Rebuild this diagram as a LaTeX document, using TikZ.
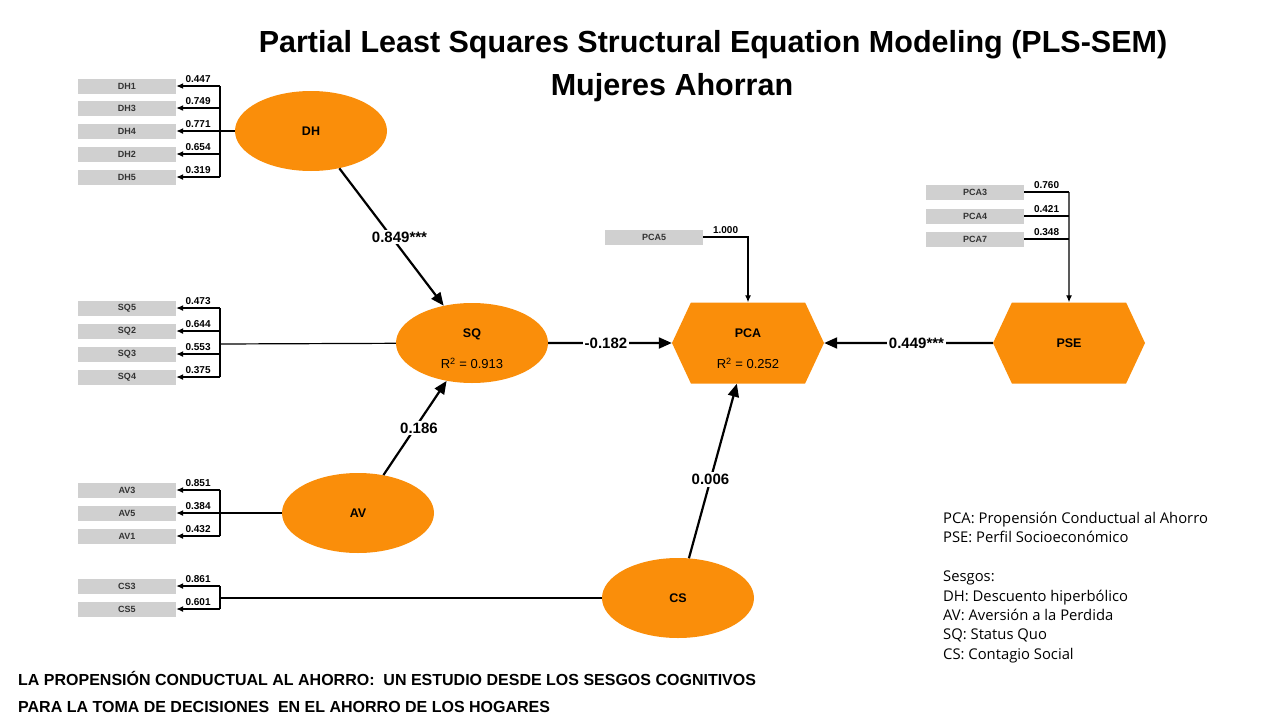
\documentclass[tikz,border=0pt]{standalone}
\usepackage{fontspec}
\setmainfont{Liberation Sans}
\newfontfamily\legendfont{Open Sans}
\usetikzlibrary{shapes.geometric,shapes.symbols,arrows.meta}
\definecolor{lvorange}{RGB}{250,142,10}
\definecolor{mvgray}{RGB}{208,208,208}

\begin{document}
\begin{tikzpicture}[x=1pt,y=-1pt,
  lv/.style={ellipse, fill=lvorange, minimum width=152, minimum height=80, inner sep=0, align=center,
    font=\bfseries\fontsize{12.5}{14}\selectfont},
  hex/.style={signal, signal to=west and east, signal pointer angle=130, fill=lvorange,
    minimum width=152, minimum height=81, inner sep=0, align=center, font=\bfseries\fontsize{12.5}{14}\selectfont},
  mv/.style={fill=mvgray, minimum width=98, minimum height=15, inner sep=0,
    font=\bfseries\fontsize{9}{10}\selectfont, text=black!80},
  ld/.style={line width=1.2, -{Latex[length=7,width=6]}},
  loading/.style={above=-1pt, font=\bfseries\fontsize{10}{11}\selectfont},
  strukt/.style={line width=2.2, -{Triangle[length=13,width=11]}},
  coef/.style={fill=white, inner sep=2, font=\bfseries\fontsize{15}{17}\selectfont}]
\useasboundingbox (0,0) rectangle (1280,720);

% titel
\node (titel) at (713,45) {\bfseries\fontsize{30.5}{34}\selectfont Partial Least Squares Structural Equation Modeling (PLS-SEM)};
\node (untertitel) at (672,88) {\bfseries\fontsize{30.5}{34}\selectfont Mujeres Ahorran};

% latente variablen
\node[lv] (dh) at (311,131) {DH};
\node[lv] (sq) at (472,343) {\rule{0pt}{21pt}SQ\\[17pt]{\mdseries\fontsize{13}{14}\selectfont R\textsuperscript{2} = 0.913}};
\node[lv] (av) at (358,513) {AV};
\node[lv] (cs) at (678,598) {CS};
\node[hex] (pca) at (748,343) {\rule{0pt}{21pt}PCA\\[17pt]{\mdseries\fontsize{13}{14}\selectfont R\textsuperscript{2} = 0.252}};
\node[hex] (pse) at (1069,343) {PSE};

% indikatoren DH
\node[mv] (dh1) at (127,86) {DH1};
\node[mv] (dh3) at (127,108) {DH3};
\node[mv] (dh4) at (127,131) {DH4};
\node[mv] (dh2) at (127,154) {DH2};
\node[mv] (dh5) at (127,177) {DH5};
\coordinate (dhj) at (220,131);
\draw[line width=1.2] (dh) -- (dhj);
\draw[line width=1.2] (dhj |- dh1) -- (dhj |- dh5);
\draw[ld] (dhj |- dh1) -- node[loading]{0.447} (dh1);
\draw[ld] (dhj |- dh3) -- node[loading]{0.749} (dh3);
\draw[ld] (dhj |- dh4) -- node[loading]{0.771} (dh4);
\draw[ld] (dhj |- dh2) -- node[loading]{0.654} (dh2);
\draw[ld] (dhj |- dh5) -- node[loading]{0.319} (dh5);

% indikatoren SQ
\node[mv] (sq5) at (127,308) {SQ5};
\node[mv] (sq2) at (127,331) {SQ2};
\node[mv] (sq3) at (127,354) {SQ3};
\node[mv] (sq4) at (127,377) {SQ4};
\coordinate (sqj) at (220,344);
\draw[line width=1.2] (sq) -- (sqj);
\draw[line width=1.2] (sqj |- sq5) -- (sqj |- sq4);
\draw[ld] (sqj |- sq5) -- node[loading]{0.473} (sq5);
\draw[ld] (sqj |- sq2) -- node[loading]{0.644} (sq2);
\draw[ld] (sqj |- sq3) -- node[loading]{0.553} (sq3);
\draw[ld] (sqj |- sq4) -- node[loading]{0.375} (sq4);

% indikatoren AV
\node[mv] (av3) at (127,490) {AV3};
\node[mv] (av5) at (127,513) {AV5};
\node[mv] (av1) at (127,536) {AV1};
\coordinate (avj) at (220,513);
\draw[line width=1.2] (av) -- (avj);
\draw[line width=1.2] (avj |- av3) -- (avj |- av1);
\draw[ld] (avj |- av3) -- node[loading]{0.851} (av3);
\draw[ld] (avj |- av5) -- node[loading]{0.384} (av5);
\draw[ld] (avj |- av1) -- node[loading]{0.432} (av1);

% indikatoren CS
\node[mv] (cs3) at (127,586) {CS3};
\node[mv] (cs5) at (127,609) {CS5};
\coordinate (csj) at (220,598);
\draw[line width=1.2] (cs) -- (csj);
\draw[line width=1.2] (csj |- cs3) -- (csj |- cs5);
\draw[ld] (csj |- cs3) -- node[loading]{0.861} (cs3);
\draw[ld] (csj |- cs5) -- node[loading]{0.601} (cs5);

% indikator PCA
\node[mv] (pca5) at (654,237) {PCA5};
\draw[ld] (pca5) -| node[loading, pos=0.25]{1.000} (pca);

% indikatoren PSE (formativ)
\node[mv] (pca3) at (975,192) {PCA3};
\node[mv] (pca4) at (975,216) {PCA4};
\node[mv] (pca7) at (975,239) {PCA7};
\coordinate (psej) at (1069,192);
\draw[line width=1.2] (pca3) -- node[loading]{0.760} (psej);
\draw[line width=1.2] (pca4) -- node[loading]{0.421} (psej |- pca4);
\draw[line width=1.2] (pca7) -- node[loading]{0.348} (psej |- pca7);
\draw[ld] (psej) -- (pse);

% strukturmodell
\draw[strukt] (dh) -- node[coef, xshift=8]{0.849***} (sq);
\draw[strukt] (av) -- node[coef, xshift=4]{0.186} (sq);
\draw[strukt] (sq) -- node[coef, xshift=-4]{-0.182} (pca);
\draw[strukt] (cs) -- node[coef, pos=0.45]{0.006} (pca);
\draw[strukt] (pse) -- node[coef, xshift=8]{0.449***} (pca);

% legende
\node[anchor=north west, align=left, inner sep=0, font=\legendfont\fontsize{14.8}{19.4}\selectfont] (legende) at (943,512)
  {PCA: Propensión Conductual al Ahorro\\PSE: Perfil Socioeconómico\\[19.4pt]Sesgos:\\DH: Descuento hiperbólico\\
   AV: Aversión a la Perdida\\SQ: Status Quo\\CS: Contagio Social};

% fusszeile
\node[anchor=west, inner sep=0, font=\bfseries\fontsize{16}{18}\selectfont] (fuss1) at (18,678)
  {LA PROPENSIÓN CONDUCTUAL AL AHORRO:\ \ UN ESTUDIO DESDE LOS SESGOS COGNITIVOS};
\node[anchor=west, inner sep=0, font=\bfseries\fontsize{16}{18}\selectfont] (fuss2) at (18,707)
  {PARA LA TOMA DE DECISIONES\ \ EN EL AHORRO DE LOS HOGARES};
\end{tikzpicture}
\end{document}
